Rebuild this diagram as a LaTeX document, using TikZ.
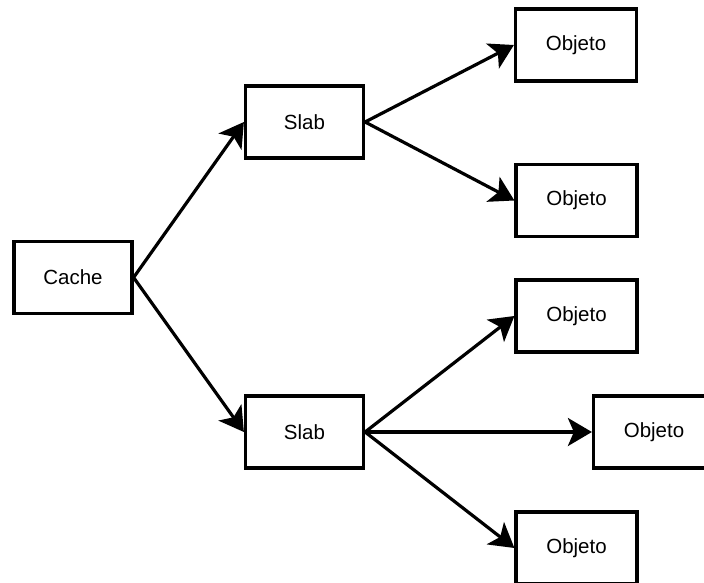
\documentclass[tikz,border=0pt]{standalone}
\usepackage{fontspec}
\setmainfont{Liberation Sans}
\usetikzlibrary{arrows.meta}
\tikzset{
  box/.style={draw=black, line width=3.2pt, fill=white, minimum width=118pt,
    minimum height=72pt, inner sep=0pt, font=\fontsize{20.5}{24}\selectfont},
  objbox/.style={box, minimum width=121pt},
  link/.style={line width=3.2pt, -{Stealth[length=24pt, width=28pt, inset=6pt]}}
}
\begin{document}
\begin{tikzpicture}[x=1pt, y=-1pt]
  \useasboundingbox (0,0) rectangle (704,583);
  \clip (0,0) rectangle (704,583);
  % tree: cache -> slabs -> objects
  \node[box] (cache) at (73,277.5) {Cache};
  \node[box] (slabA) at (304.5,122) {Slab};
  \node[box] (slabB) at (304.5,432) {Slab};
  \node[objbox] (o1) at (576,45) {Objeto};
  \node[objbox] (o2) at (576.5,200.5) {Objeto};
  \node[objbox] (o3) at (576.5,316) {Objeto};
  \node[objbox] (o4) at (654,432) {Objeto};
  \node[objbox] (o5) at (576.5,548) {Objeto};
  \draw[link] (cache.east) -- (slabA.west);
  \draw[link] (cache.east) -- (slabB.west);
  \draw[link] (slabA.east) -- (o1.west);
  \draw[link] (slabA.east) -- (o2.west);
  \draw[link] (slabB.east) -- (o3.west);
  \draw[link] (slabB.east) -- (o4.west);
  \draw[link] (slabB.east) -- (o5.west);
\end{tikzpicture}
\end{document}
